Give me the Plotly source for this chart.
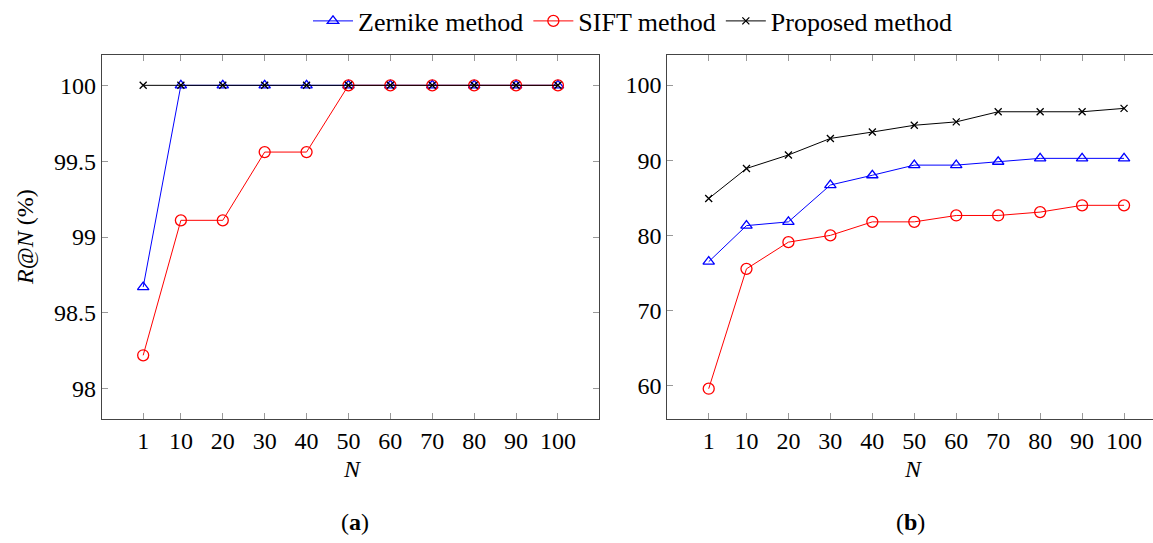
import plotly.graph_objects as go

W, H = 1153, 543

N_values = [1, 10, 20, 30, 40, 50, 60, 70, 80, 90, 100]

# (a)
zernike_a = [98.67, 100, 100, 100, 100, 100, 100, 100, 100, 100, 100]
sift_a = [98.22, 99.11, 99.11, 99.56, 99.56, 100, 100, 100, 100, 100, 100]
proposed_a = [100, 100, 100, 100, 100, 100, 100, 100, 100, 100, 100]

# (b)
zernike_b = [76.5, 81.3, 81.8, 86.7, 88.0, 89.35, 89.35, 89.8, 90.25, 90.25, 90.25]
sift_b = [59.6, 75.55, 79.1, 80.0, 81.8, 81.8, 82.65, 82.65, 83.1, 84.0, 84.0]
proposed_b = [84.9, 88.9, 90.7, 92.9, 93.75, 94.65, 95.1, 96.45, 96.45, 96.45, 96.9]

yticks_a = [98, 98.5, 99, 99.5, 100]
yticks_b = [60, 70, 80, 90, 100]
series_names = ["Zernike method", "SIFT method", "Proposed method"]

FONT = "Liberation Serif"
FS = 24

def px_x(p):
    return p / W

def px_y(p):
    return 1 - p / H

styles = [
    dict(color="blue", symbol="triangle-up-open", size=10),
    dict(color="red", symbol="circle-open", size=11),
    dict(color="black", symbol="x-thin-open", size=7),
]

fig = go.Figure()
for i, (ys, st) in enumerate(zip([zernike_a, sift_a, proposed_a], styles)):
    fig.add_trace(go.Scatter(
        x=N_values, y=ys, mode="lines+markers", name=series_names[i],
        line=dict(color=st["color"], width=1),
        marker=dict(symbol=st["symbol"], size=st["size"], color=st["color"],
                    line=dict(color=st["color"], width=1.3)),
        xaxis="x", yaxis="y", showlegend=True))
for i, (ys, st) in enumerate(zip([zernike_b, sift_b, proposed_b], styles)):
    fig.add_trace(go.Scatter(
        x=N_values, y=ys, mode="lines+markers", name=series_names[i],
        line=dict(color=st["color"], width=1),
        marker=dict(symbol=st["symbol"], size=st["size"], color=st["color"],
                    line=dict(color=st["color"], width=1.3)),
        xaxis="x2", yaxis="y2", showlegend=False))

axis_common = dict(
    showgrid=False, zeroline=False, showline=True, linecolor="#444", linewidth=1,
    ticks="inside", ticklen=6, tickcolor="#999", tickwidth=1,
    tickfont=dict(family=FONT, size=FS, color="black"),
)

fig.update_layout(
    width=W, height=H,
    margin=dict(l=0, r=0, t=0, b=0, autoexpand=False),
    paper_bgcolor="white", plot_bgcolor="white",
    font=dict(family=FONT, size=FS, color="black"),
    xaxis=dict(domain=[px_x(101.7), px_x(599)], range=[-8.9, 109.8],
               tickvals=N_values, ticktext=[str(v) for v in N_values],
               mirror="ticks", anchor="y", **axis_common),
    yaxis=dict(domain=[px_y(419), px_y(55)], range=[97.8, 100.2],
               tickvals=yticks_a, ticktext=[f"{v:g}" for v in yticks_a],
               mirror="ticks", anchor="x", **axis_common),
    xaxis2=dict(domain=[px_x(667.3), 1.0], range=[-8.87, 106.9],
                tickvals=N_values, ticktext=[str(v) for v in N_values],
                mirror="ticks", anchor="y2", **axis_common),
    yaxis2=dict(domain=[px_y(419), px_y(55)], range=[55.57, 104.0],
                tickvals=yticks_b, ticktext=[f"{v:g}" for v in yticks_b],
                mirror=False, anchor="x2", **axis_common),
    legend=dict(orientation="h", x=px_x(633), xanchor="center",
                y=px_y(21), yanchor="middle",
                font=dict(family=FONT, size=26, color="black"),
                bgcolor="rgba(0,0,0,0)", itemwidth=40, tracegroupgap=0),
)

annotations = [
    dict(text="<i>R</i>@<i>N</i> (%)", x=px_x(25), y=px_y(237), textangle=-90),
    dict(text="<i>N</i>", x=px_x(352), y=px_y(469)),
    dict(text="<i>N</i>", x=px_x(913), y=px_y(469)),
    dict(text="(<b>a</b>)", x=px_x(355), y=px_y(522)),
    dict(text="(<b>b</b>)", x=px_x(910), y=px_y(522)),
]
for a in annotations:
    fig.add_annotation(xref="paper", yref="paper", showarrow=False,
                       xanchor="center", yanchor="middle",
                       font=dict(family=FONT, size=FS, color="black"), **a)

fig.write_html("out.html")
